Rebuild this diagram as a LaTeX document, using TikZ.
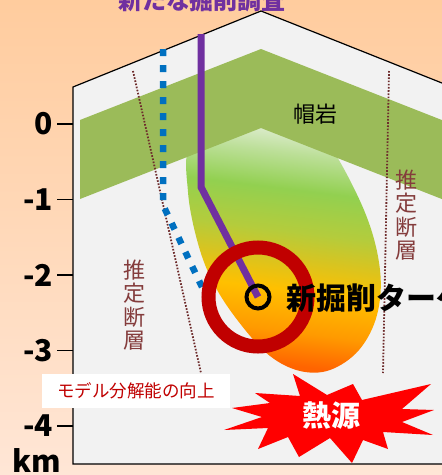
\documentclass[tikz,border=0pt]{standalone}
\usepackage{fontspec}
\newfontfamily\jp{Noto Sans CJK JP}
\usetikzlibrary{calc}

\definecolor{peachtop}{HTML}{FFCC9E}
\definecolor{peachbot}{HTML}{FFE6D6}
\definecolor{panelgray}{HTML}{F2F2F2}
\definecolor{capgreen}{HTML}{9BBB59}
\definecolor{faultbrown}{HTML}{6E2C2C}
\definecolor{faulttext}{HTML}{843C3C}
\definecolor{wellblue}{HTML}{0070C0}
\definecolor{wellpurple}{HTML}{7030A0}
\definecolor{ringred}{HTML}{C00000}
\definecolor{heatred}{HTML}{FF0000}

% reservoir body colours
\definecolor{bodyA}{HTML}{FF6400}
\definecolor{bodyB}{HTML}{FF9A00}
\definecolor{bodyC}{HTML}{FFC000}
\definecolor{bodyD}{HTML}{D8C420}
\definecolor{bodyE}{HTML}{B4CC3C}
\definecolor{bodyF}{HTML}{92D050}
\definecolor{bodyG}{HTML}{BCDF98}
\definecolor{bodyH}{HTML}{E2EED6}

% colour ramp of the reservoir body, from its deep end (0bp) to its top (100bp)
\pgfdeclareverticalshading{bodyshade}{100bp}{%
  color(0bp)=(bodyA);
  color(26bp)=(bodyA);
  color(32bp)=(bodyB);
  color(39.5bp)=(bodyC);
  color(45bp)=(bodyD);
  color(50bp)=(bodyE);
  color(57.5bp)=(bodyF);
  color(64bp)=(bodyG);
  color(69bp)=(bodyH);
  color(100bp)=(bodyH)}

\tikzset{
  faultline/.style={faultbrown, line width=1.8pt, dash pattern=on 1.6pt off 1.6pt},
  oldwell/.style={wellblue, line width=6.5pt, dash pattern=on 7pt off 9pt},
  newwell/.style={wellpurple, line width=7pt},
  targetring/.style={ringred, line width=14pt},
  marker/.style={circle, draw=black, line width=4pt, minimum size=23pt, inner sep=0pt},
  faultlabel/.style={text=faulttext, align=center, inner sep=0pt,
    font=\jp\fontsize{22}{23.5}\selectfont},
  tick/.style={black, line width=1.8pt},
  depthlabel/.style={anchor=east, inner sep=0pt, font=\jp\bfseries\fontsize{30}{30}\selectfont}
}

\begin{document}
\begin{tikzpicture}[x=1pt,y=-1pt]
\useasboundingbox (0,0) rectangle (442,475);
\clip (0,0) rectangle (442,475);

% background
\shade[top color=peachtop, bottom color=peachbot] (0,0) rectangle (442,475);

% cross-section panel
\filldraw[fill=panelgray, draw=black, line width=1.2pt]
  (73,87) -- (261,11) -- (452,87) -- (452,464) -- (73,464) -- cycle;

% reservoir body
\shade[shading=bodyshade, shading angle=-7]
  plot[smooth cycle, tension=0.6] coordinates {
    (235,92) (300,108) (333,150) (366,215) (380,270) (377,315)
    (359,350) (330,370) (300,371) (270,356) (242,326) (216,288)
    (199,247) (188,192) (191,140)};

% cap rock
\fill[capgreen] (80,120) -- (261,49) -- (452,124) -- (452,203)
  -- (261,128) -- (80,199) -- cycle;

% inferred faults
\coordinate (fLtop) at (133,71);  \coordinate (fLbot) at (201,373);
\coordinate (fRtop) at (389,71);  \coordinate (fRbot) at (383,373);
\draw[faultline] (fLtop) -- (fLbot);
\draw[faultline] (fRtop) -- (fRbot);

% existing well (dotted)
\coordinate (oldtop) at (163,49);
\coordinate (oldbend) at (163,205);
\coordinate (oldend) at (202,287);
\draw[oldwell] (oldtop) -- (oldbend) -- (oldend);

% new well, target ring and target marker
\coordinate (target) at (258,297);
\coordinate (newtop) at (201,34);
\coordinate (newbend) at (201,187);
\draw[newwell] (newtop) -- (newbend) -- (target);
\draw[targetring] (target) circle[radius=49.5];
\node[marker] (targetmark) at (target) {};

% labels
\node[anchor=base, inner sep=0pt, text=wellpurple, font=\jp\bfseries\fontsize{24}{24}\selectfont]
  (title) at (202,9) {新たな掘削調査};
\node[inner sep=0pt, font=\jp\fontsize{22}{22}\selectfont] (caprock) at (315,114) {帽岩};
\node[faultlabel] (faultR) at (406,215) {推\\定\\断\\層};
\node[faultlabel] (faultL) at (134,305) {推\\定\\断\\層};
\node[anchor=west, inner sep=0pt, font=\jp\bfseries\fontsize{30}{30}\selectfont]
  (targetlabel) at (286,298) {新掘削ターゲット};

\node[fill=white, inner sep=0pt, minimum width=188pt, minimum height=34pt,
  text=ringred, font=\jp\fontsize{17.5}{17.5}\selectfont]
  (resolution) at (136,391) {モデル分解能の向上};

% heat source burst
\fill[heatred] (293,374) -- (327,395) -- (353,384) -- (362,400) -- (431,384)
  -- (402,409) -- (434,410) -- (402,422) -- (433,435) -- (383,432)
  -- (388,449) -- (363,440) -- (352,463) -- (330,438) -- (299,457)
  -- (288,437) -- (258,449) -- (268,428) -- (224,430) -- (262,417)
  -- (232,408) -- (270,403) -- (255,393) -- (300,396) -- cycle;
\node[inner sep=0pt, text=white, font=\jp\bfseries\fontsize{29}{29}\selectfont]
  (heat) at (331,416) {熱源};

% depth axis
\foreach \d [count=\i from 0] in {0,-1,-2,-3,-4} {
  \coordinate (tk\i) at (57,124+75.5*\i);
  \coordinate (tke\i) at (73,124+75.5*\i);
  \draw[tick] (tk\i) -- (tke\i);
  \node[depthlabel] (dl\i) at (53,124+75.5*\i) {\d};
}
\node[anchor=base west, inner sep=0pt, font=\jp\bfseries\fontsize{30}{30}\selectfont]
  (unit) at (12,472) {km};
\end{tikzpicture}
\end{document}
